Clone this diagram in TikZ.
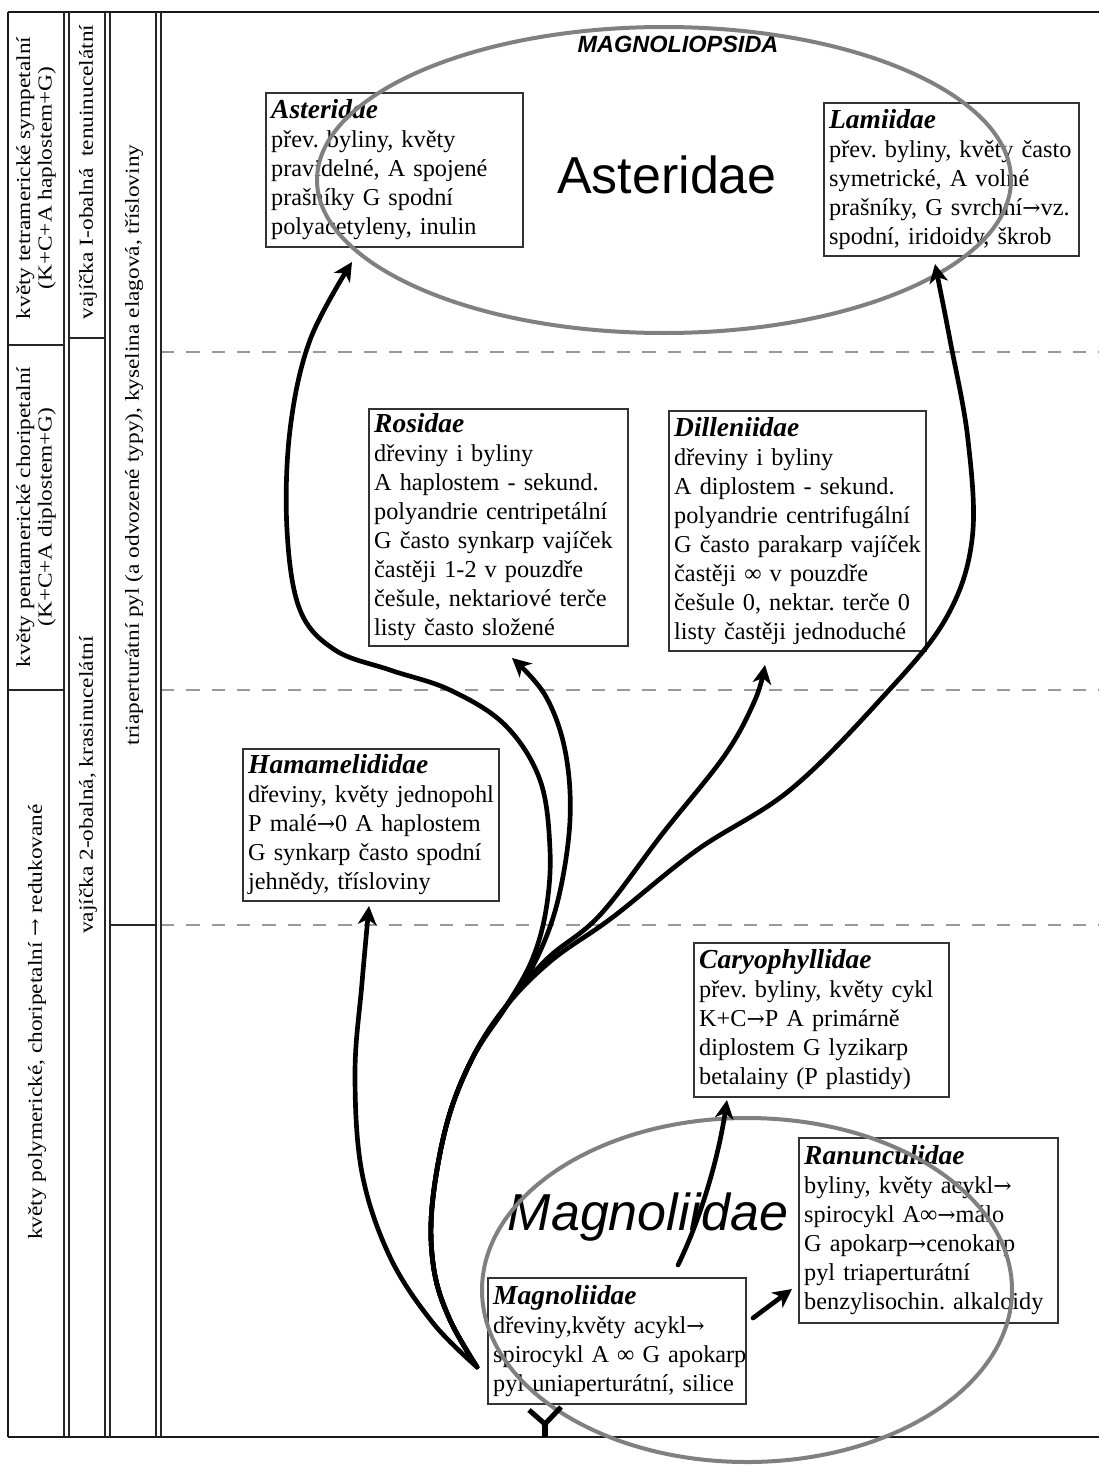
\documentclass[tikz,border=0pt]{standalone}
\usepackage{fontspec}
\setmainfont{Liberation Serif}
\newfontfamily\arialfont{Liberation Sans}
\newfontfamily\arrfont[Scale=0.9]{DejaVu Serif}
\usetikzlibrary{arrows.meta}

\frenchspacing
\newcommand\bl[1]{\mbox{#1}}
\newcommand\ra{{\arrfont →}}
\newcommand\ttl[1]{{\fontsize{20.6}{21.75}\selectfont\bfseries\itshape #1}}

\begin{document}
\begin{tikzpicture}[x=0.75pt,y=-0.75pt,
  taxon/.style={draw=black!80, line width=1.3pt, fill=white, anchor=north west,
    align=left, inner xsep=4pt, inner ysep=2pt,
    font=\fontsize{18.2}{21.75}\selectfont},
  colrule/.style={line width=1.4pt, draw=black!85},
  frame/.style={line width=1.6pt, draw=black!90},
  band/.style={draw=black!40, line width=1.2pt, dash pattern=on 10pt off 9pt},
  colnote/.style={rotate=90, yscale=0.85, align=center, inner sep=0pt,
    font=\fontsize{17.5}{19}\selectfont},
  ring/.style={draw=black!50, line width=3pt},
  evo/.style={line width=3.5pt, line cap=round, line join=round,
    -{Stealth[length=14pt,width=14pt,inset=4pt]}},
  bigname/.style={inner sep=0pt, anchor=base, font=\arialfont\fontsize{39}{39}\selectfont},
]
\useasboundingbox (0,0) rectangle (1099,1470);
\fill[white] (0,0) rectangle (1099,1470);

% horizontal level bands
\draw[band] (161,352) -- (1099,352);
\draw[band] (161,690) -- (1099,690);
\draw[band] (161,925) -- (1099,925);

% outer frame and side columns
\draw[frame] (8,12) -- (1099,12);
\draw[frame] (8,1437) -- (1099,1437);
\draw[frame] (8,12) -- (8,1437);
\foreach \cx in {64,69,105,110,156,161}
  \draw[colrule] (\cx,12) -- (\cx,1437);
\draw[colrule] (8,345) -- (64,345);
\draw[colrule] (8,690) -- (64,690);
\draw[colrule] (69,338) -- (105,338);
\draw[colrule] (110,925) -- (156,925);

% side column notes
\node[colnote] (c1a) at (36,178) {květy tetramerické sympetalní\\(K+C+A haplostem+G)};
\node[colnote] (c1b) at (36,517) {květy pentamerické choripetalní\\(K+C+A diplostem+G)};
\node[colnote] (c1c) at (37,1022) {květy polymerické, choripetalní \ra{} redukované};
\node[colnote] (c2a) at (88,172) {vajíčka I-obalná\enspace tenuinucelátní};
\node[colnote] (c2b) at (88,785) {vajíčka 2-obalná, krasinucelátní};
\node[colnote] (c3) at (134,445) {triaperturátní pyl (a odvozené typy), kyselina elagová, třísloviny};

% subclass boxes
\node[taxon, text width=184.75pt, minimum height=115.5pt] (ast) at (265,92)
  {\ttl{Asteridae}\\\bl{přev. byliny, květy}\\\bl{pravidelné, A spojené}\\\bl{prašníky G spodní}\\\bl{polyacetyleny, inulin}};
\node[taxon, text width=183.25pt, minimum height=114.75pt] (lam) at (823,102)
  {\ttl{Lamiidae}\\\bl{přev. byliny, květy často}\\\bl{symetrické, A volné}\\\bl{prašníky, G svrchní\ra vz.}\\\bl{spodní, iridoidy, škrob}};
\node[taxon, text width=186.25pt, minimum height=177.75pt] (ros) at (368,408)
  {\ttl{Rosidae}\\\bl{dřeviny i byliny}\\\bl{A haplostem - sekund.}\\\bl{polyandrie centripetální}\\\bl{G často synkarp vajíček}\\\bl{častěji 1-2 v pouzdře}\\\bl{češule, nektariové terče}\\\bl{listy často složené}};
\node[taxon, text width=184.75pt, minimum height=180pt] (dil) at (668,410)
  {\ttl{Dilleniidae}\\\bl{dřeviny i byliny}\\\bl{A diplostem - sekund.}\\\bl{polyandrie centrifugální}\\\bl{G často parakarp vajíček}\\\bl{častěji ∞ v pouzdře}\\\bl{češule 0, nektar. terče 0}\\\bl{listy častěji jednoduché}};
\node[taxon, text width=184pt, minimum height=114pt] (ham) at (242,748)
  {\ttl{Hamamelididae}\\\bl{dřeviny, květy jednopohl}\\\bl{P malé\ra 0 A haplostem}\\\bl{G synkarp často spodní}\\\bl{jehnědy, třísloviny}};
\node[taxon, text width=183.25pt, minimum height=115.5pt] (car) at (693,942)
  {\ttl{Caryophyllidae}\\\bl{přev. byliny, květy cykl}\\\bl{K+C\ra P A primárně}\\\bl{diplostem G lyzikarp}\\\bl{betalainy (P plastidy)}};
\node[taxon, text width=186.25pt, minimum height=138.75pt] (ran) at (798,1137)
  {\ttl{Ranunculidae}\\\bl{byliny, květy acykl\ra}\\\bl{spirocykl A∞\ra málo}\\\bl{G apokarp\ra cenokarp}\\\bl{pyl triaperturátní}\\\bl{benzylisochin. alkaloidy}};
\node[taxon, text width=185.5pt, minimum height=94.5pt] (mag) at (487,1277)
  {\ttl{Magnoliidae}\\\bl{dřeviny,květy acykl\ra}\\\bl{spirocykl A ∞ G apokarp}\\\bl{pyl uniaperturátní, silice}};

% group labels
\node[bigname] (astlab) at (667,193) {Asteridae};
\node[bigname, font=\arialfont\fontsize{39}{39}\selectfont\itshape] (maglab) at (648,1230) {Magnoliidae};
\node[inner sep=0pt, anchor=base, font=\arialfont\fontsize{17.6}{18}\selectfont\bfseries\itshape] (cls) at (678,53) {MAGNOLIOPSIDA};

% group outlines
\draw[ring] (664,180) ellipse [x radius=347, y radius=153];
\draw[ring] (747,1290) ellipse [x radius=265, y radius=172];

% evolutionary lines: a common trunk from the root, then the branches
\coordinate (O) at (477,1367);
\coordinate (tAst) at (352,262);
\coordinate (tLam) at (935,264);
\coordinate (tRos) at (512,658);
\coordinate (tDil) at (765,665);
\coordinate (tHam) at (369,906);
\coordinate (sCar) at (678,1265);
\coordinate (tCar) at (727,1100);
\coordinate (sRan) at (753,1318);
\coordinate (tRan) at (792,1289);

\draw[evo] plot[smooth, tension=0.6] coordinates {(O) (433,1323) (390,1257) (362,1173) (355,1073) (362,983) (tHam)};
\draw[evo] plot[smooth, tension=0.6] coordinates {(O) (450,1320) (434,1270) (432,1207) (447,1123) (473,1057) (507,1005) (532,960) (546,910) (550,850) (540,780) (505,725) (450,690) (390,670) (335,650) (300,610) (287,530) (290,430) (310,340) (tAst)};
\draw[evo] plot[smooth, tension=0.6] coordinates {(O) (450,1320) (434,1270) (432,1207) (447,1123) (473,1057) (507,1005) (536,960) (558,900) (570,820) (565,750) (545,695) (tRos)};
\draw[evo] plot[smooth, tension=0.6] coordinates {(O) (450,1320) (434,1270) (432,1207) (447,1123) (473,1057) (507,1005) (548,958) (600,915) (663,833) (725,755) (755,700) (tDil)};
\draw[evo] plot[smooth, tension=0.6] coordinates {(O) (450,1320) (434,1270) (432,1207) (447,1123) (473,1057) (507,1005) (552,960) (613,917) (697,850) (790,790) (880,700) (945,620) (972,540) (968,440) (950,340) (tLam)};
\draw[evo] (sCar) .. controls (700,1220) and (718,1160) .. (tCar);
\draw[evo] (sRan) -- (tRan);

% stem below Magnoliidae
\coordinate (yL) at (529,1410);
\coordinate (yR) at (561,1407);
\coordinate (yM) at (545,1424);
\coordinate (yB) at (545,1437);
\draw[line width=3.8pt, line join=round] (yL) -- (yM) -- (yR);
\draw[line width=3.8pt] (yM) -- (yB);
\end{tikzpicture}
\end{document}
